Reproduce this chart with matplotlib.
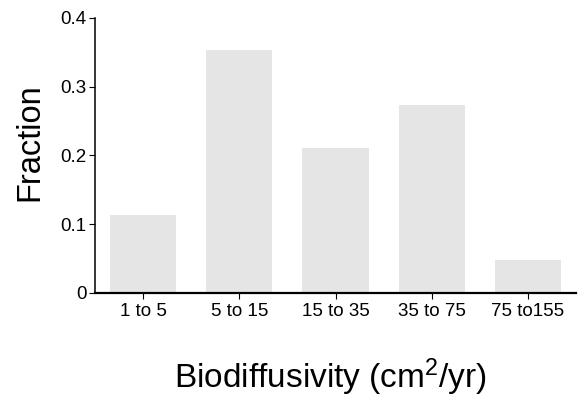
import matplotlib
matplotlib.use("Agg")
import matplotlib.pyplot as plt

categories = ["1 to 5", "5 to 15", "15 to 35", "35 to 75", "75 to155"]
fractions = [0.113, 0.353, 0.211, 0.273, 0.048]
yticks = [0, 0.1, 0.2, 0.3, 0.4]
ytick_labels = ["0", "0.1", "0.2", "0.3", "0.4"]

plt.rcParams['font.family'] = ['Liberation Sans', 'DejaVu Sans']
plt.rcParams['mathtext.fontset'] = 'custom'
plt.rcParams['mathtext.rm'] = 'Liberation Sans'
plt.rcParams['mathtext.it'] = 'Liberation Sans'

fig = plt.figure(figsize=(5.79, 3.98), dpi=100)
ax = fig.add_axes([0.164, 0.264, 0.831, 0.691])

x = list(range(len(categories)))
ax.bar(x, fractions, width=0.69, color='#e5e5e5', zorder=1)

ax.set_xlim(-0.5, 4.5)
ax.set_ylim(0, 0.4)
ax.set_yticks(yticks)
ax.set_yticklabels(ytick_labels)
ax.set_xticks(x)
ax.set_xticklabels(categories)

for s in ['top', 'right']:
    ax.spines[s].set_visible(False)
ax.spines['left'].set_linewidth(1.1)
ax.spines['bottom'].set_linewidth(1.6)
ax.spines['bottom'].set_zorder(3)

ax.tick_params(axis='y', length=4, width=0.8, labelsize=13.5, pad=2)
ax.tick_params(axis='x', length=4, width=0.8, labelsize=13.5, pad=3)

ax.set_ylabel("Fraction", fontsize=23.5, va='center')
ax.yaxis.set_label_coords(-0.135, 0.549)
ax.set_xlabel(r"Biodiffusivity (cm$^{\mathrm{2}}$/yr)", fontsize=24, va='center')
ax.xaxis.set_label_coords(0.49, -0.305)

fig.savefig("out.png", dpi=100)
